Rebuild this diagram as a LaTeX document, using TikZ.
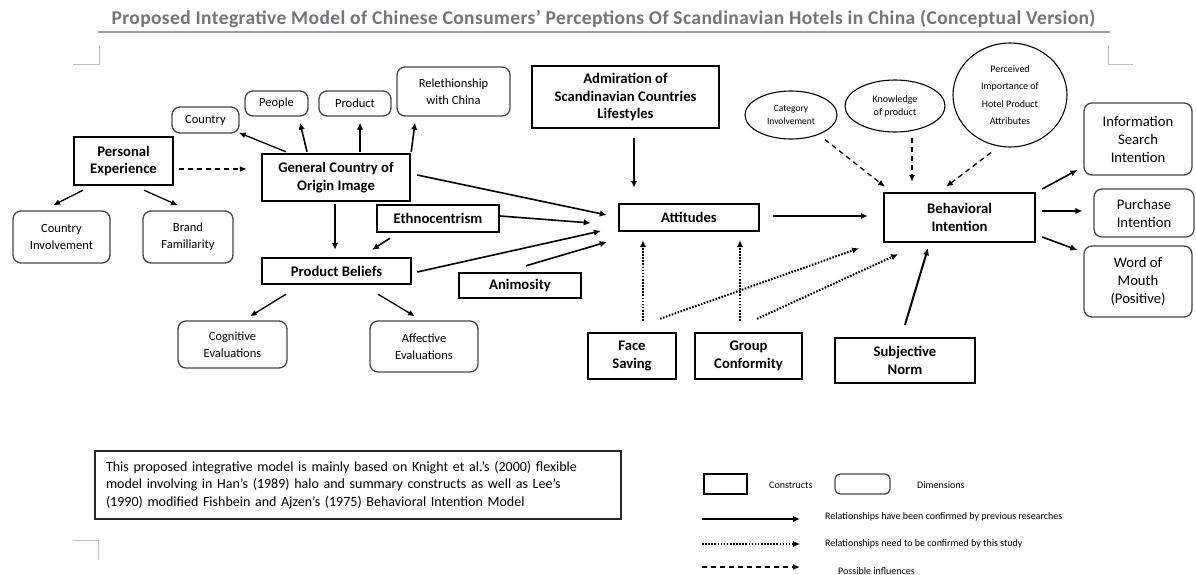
\documentclass[tikz,border=0pt]{standalone}
\usepackage{fontspec}
\setmainfont{Carlito}
\usetikzlibrary{arrows.meta,calc,shapes.geometric}
\definecolor{titlegray}{RGB}{115,115,122}
\definecolor{markgray}{RGB}{190,190,190}
\definecolor{dimline}{RGB}{70,70,70}
\newcommand{\consfont}{\fontsize{14.67}{17.5}\selectfont\bfseries}
\newcommand{\dimfont}{\fontsize{12.5}{17}\selectfont}
\newcommand{\bigdimfont}{\fontsize{14.67}{18}\selectfont}
\newcommand{\ellfont}{\fontsize{10}{13}\selectfont}
\newcommand{\legfont}{\fontsize{10}{12}\selectfont}
\newcommand{\notefont}{\fontsize{14}{17.5}\selectfont}
\begin{document}
\begin{tikzpicture}[x=1pt,y=-1pt,
  cons/.style={draw=black, line width=2.4pt, inner sep=0pt, align=center, font=\consfont},
  dimbox/.style={draw=dimline, line width=1.3pt, rounded corners=8pt, inner sep=0pt, align=center, font=\dimfont},
  bigdim/.style={dimbox, font=\bigdimfont},
  ell/.style={draw=black, ellipse, line width=1.1pt, inner sep=0pt, align=center, font=\ellfont},
  arr/.style={line width=1.6pt, -{Latex[length=7pt,width=6.5pt]}},
  thinarr/.style={line width=1.3pt, -{Latex[length=7pt,width=6pt]}},
  dotarr/.style={line width=2pt, dash pattern=on 1.6pt off 1.5pt, -{Latex[length=7pt,width=6.5pt]}},
  dasharr/.style={line width=1.3pt, dash pattern=on 5pt off 4pt, -{Latex[length=7pt,width=6pt]}},
  leg/.style={anchor=west, inner sep=0pt, font=\legfont},
  cornermark/.style={draw=markgray, line width=1pt}
]
\useasboundingbox (0,0) rectangle (1196,575);

% title
\node[anchor=base, inner sep=0pt, text=titlegray, font=\fontsize{19.5}{21}\selectfont\bfseries\addfontfeature{LetterSpace=2}] (title) at (603.5,25)
  {Proposed Integrative Model of Chinese Consumers’ Perceptions Of Scandinavian Hotels in China (Conceptual Version)};
\coordinate (ulA) at (98,32);
\coordinate (ulB) at (1110,32);
\draw[draw=titlegray!70, line width=1.4pt] (ulA) -- (ulB);

% page corner marks
\draw[cornermark] (73,65) -- (99,65) -- (99,46);
\draw[cornermark] (1108,46) -- (1108,65) -- (1133,65);
\draw[cornermark] (73,540) -- (98,540) -- (98,560);

% constructs
\node[cons, minimum width=99pt, minimum height=48pt] (pe) at (123.5,161) {Personal\\Experience};
\node[cons, minimum width=148pt, minimum height=47pt] (coo) at (336,177.5) {General Country of\\Origin Image};
\node[cons, minimum width=122pt, minimum height=27pt] (ethno) at (438,218.5) {Ethnocentrism};
\node[cons, minimum width=149pt, minimum height=26pt] (pb) at (336.5,271) {Product Beliefs};
\node[cons, minimum width=122pt, minimum height=25pt] (anim) at (520,285.5) {Animosity};
\node[cons, minimum width=187pt, minimum height=62pt] (adm) at (625.5,97) {Admiration of\\Scandinavian Countries\\Lifestyles};
\node[cons, minimum width=140pt, minimum height=27pt] (att) at (689,217.5) {Attitudes};
\node[cons, minimum width=151pt, minimum height=49pt] (bi) at (959.5,217.5) {Behavioral\\Intention};
\node[cons, minimum width=88pt, minimum height=46pt] (fs) at (632,356) {Face\\Saving};
\node[cons, minimum width=107pt, minimum height=46pt] (gc) at (748.5,356) {Group\\Conformity};
\node[cons, minimum width=140pt, minimum height=45pt] (sn) at (905,360.5) {Subjective\\Norm};

% dimensions
\node[dimbox, minimum width=67pt, minimum height=26pt] (country) at (205.5,120) {Country};
\node[dimbox, minimum width=63pt, minimum height=25pt] (people) at (276.5,103.5) {People};
\node[dimbox, minimum width=72pt, minimum height=25pt] (product) at (355,103.5) {Product};
\node[dimbox, minimum width=113pt, minimum height=49pt] (rel) at (453.5,91.5) {Relethionship\\with China};
\node[dimbox, minimum width=97pt, minimum height=52pt] (ci) at (61.5,237) {Country\\Involvement};
\node[dimbox, minimum width=90pt, minimum height=52pt] (bf) at (188,237) {Brand\\Familiarity};
\node[dimbox, minimum width=109pt, minimum height=47pt] (cog) at (232.5,344.5) {Cognitive\\Evaluations};
\node[dimbox, minimum width=108pt, minimum height=51pt] (aff) at (424,346.5) {Affective\\Evaluations};
\node[bigdim, minimum width=108pt, minimum height=72pt] (info) at (1138,139) {Information\\Search\\Intention};
\node[bigdim, minimum width=100pt, minimum height=48pt] (purch) at (1144,213) {Purchase\\Intention};
\node[bigdim, minimum width=108pt, minimum height=71pt] (wom) at (1138,281.5) {Word of\\Mouth\\(Positive)};

% ellipses
\node[ell, minimum width=92pt, minimum height=48pt, font=\fontsize{9.5}{13}\selectfont] (cat) at (791,115) {Category\\Involvement};
\node[ell, minimum width=100pt, minimum height=52pt] (know) at (895,106) {Knowledge\\of product};
\node[ell, minimum width=114pt, minimum height=104pt, font=\fontsize{10}{17.5}\selectfont] (perc) at (1010,95) {Perceived\\Importance of\\Hotel Product\\Attributes};

% connectors
\draw[dasharr] ($(pe.east)+(5,8)$) -- ($(coo.west)+(-14,-8.5)$);
\draw[thinarr] ($(pe.south)+(-40.5,4)$) -- ($(ci.north)+(-8.5,-5)$);
\draw[thinarr] ($(pe.south)+(20.5,4)$) -- ($(bf.north)+(-10,-5)$);
\draw[thinarr] ($(coo.north)+(-50,-1)$) -- ($(country.south east)+(-1,-1)$);
\draw[arr] ($(coo.north)+(-29,-1)$) -- ($(people.south)+(23.5,6)$);
\draw[arr] ($(coo.north)+(24,-1)$) -- ($(product.south)+(5,6)$);
\draw[arr] ($(coo.north east)+(0,-1)$) -- ($(rel.south)+(-38.5,6)$);
\draw[arr, line width=2pt] ($(coo.south)+(-1,2)$) -- ($(pb.north)+(-1.5,-7)$);
\draw[arr] ($(ethno.south)+(-48,5)$) -- ($(pb.north)+(35.5,-7)$);
\draw[thinarr] ($(pb.south)+(-50.5,9)$) -- ($(cog.north)+(17.5,-4)$);
\draw[thinarr] ($(pb.south)+(41.5,9)$) -- ($(aff.north)+(-9,-4)$);
\draw[arr] ($(coo.east)+(6,-2.5)$) -- ($(att.west)+(-11,-2.5)$);
\draw[arr] ($(ethno.east)+(0,-2.5)$) -- ($(att.west)+(-27,5.5)$);
\draw[arr] ($(pb.east)+(5,1)$) -- ($(att.west)+(-17,13.5)$);
\draw[arr] ($(anim.north)+(6,-6)$) -- ($(att.west)+(-11,24.5)$);
\draw[arr] ($(adm.south)+(8.5,9)$) -- ($(att.north)+(-55,-15)$);
\draw[arr] ($(att.east)+(13,-1.5)$) -- ($(bi.west)+(-15,-1.5)$);
\draw[dasharr] ($(cat.south)+(34,0)$) -- ($(bi.north)+(-74.5,-5)$);
\draw[dasharr] ($(know.south)+(17,5)$) -- ($(bi.north)+(-47.5,-10)$);
\draw[dasharr] ($(perc.south)+(-19,5)$) -- ($(bi.north)+(-13.5,-5)$);
\draw[dotarr] ($(fs.north)+(11,-11)$) -- ($(att.south)+(-46,8)$);
\draw[dotarr] ($(gc.north)+(-8.5,-11)$) -- ($(att.south)+(51,8)$);
\draw[dotarr] ($(fs.north)+(28,-13)$) -- ($(bi.south)+(-100.5,5)$);
\draw[dotarr] ($(gc.north)+(8.5,-13)$) -- ($(bi.south)+(-61.5,11)$);
\draw[arr, line width=2pt] ($(sn.north)+(0,-12)$) -- ($(bi.south)+(-31.5,5)$);
\draw[arr] ($(bi.east)+(6,-28.5)$) -- ($(info.west)+(-6,31)$);
\draw[arr] ($(bi.east)+(6,-6.5)$) -- ($(purch.west)+(-11,-2)$);
\draw[arr] ($(bi.east)+(6,19.5)$) -- ($(wom.west)+(-6,-31.5)$);

% note box
\node[draw=black!85, line width=1.3pt, text width=504pt, inner xsep=11pt, inner ysep=0pt,
      minimum height=68pt, align=left, font=\notefont] (note) at (358,485)
  {\noindent\makebox[504pt][s]{This proposed integrative model is mainly based on Knight et al.’s (2000) flexible}\\
   \makebox[504pt][s]{model involving in Han’s (1989) halo and summary constructs as well as Lee’s}\\
   (1990) modified Fishbein and Ajzen’s (1975) Behavioral Intention Model};

% legend
\node[cons, minimum width=43pt, minimum height=20pt] (lcons) at (725.5,484) {};
\node[leg] (lconst) at (769,485) {Constructs};
\node[dimbox, minimum width=55pt, minimum height=20pt, rounded corners=5pt] (ldim) at (862.5,484) {};
\node[leg] (ldimt) at (917,485) {Dimensions};
\coordinate (l1a) at (702,519); \coordinate (l1b) at (800,519);
\coordinate (l2a) at (702,544); \coordinate (l2b) at (800,544);
\coordinate (l3a) at (702,567); \coordinate (l3b) at (800,567);
\draw[arr] (l1a) -- (l1b);
\draw[dotarr] (l2a) -- (l2b);
\draw[dasharr] (l3a) -- (l3b);
\node[leg] (lt1) at (825,517) {Relationships have been confirmed by previous researches};
\node[leg] (lt2) at (825,544) {Relationships need to be confirmed by this study};
\node[leg] (lt3) at (838,571) {Possible influences};
\end{tikzpicture}
\end{document}
